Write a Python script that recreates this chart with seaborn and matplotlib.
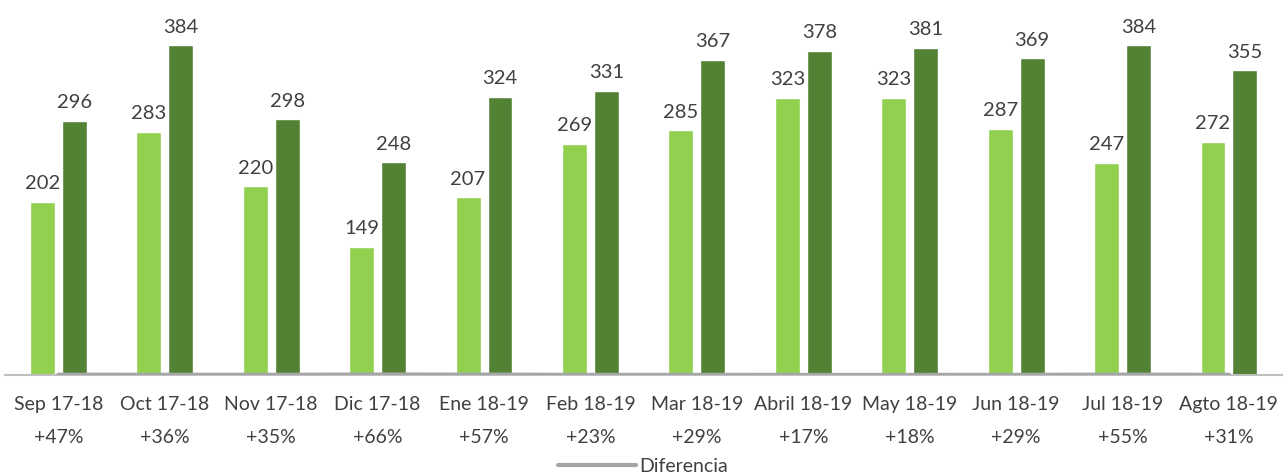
import pandas as pd
import matplotlib
matplotlib.use("Agg")
import matplotlib.pyplot as plt
import seaborn as sns

# Data
meses = ["Sep 17-18", "Oct 17-18", "Nov 17-18", "Dic 17-18", "Ene 18-19", "Feb 18-19",
         "Mar 18-19", "Abril 18-19", "May 18-19", "Jun 18-19", "Jul 18-19", "Agto 18-19"]
periodo_1 = [202, 283, 220, 149, 207, 269, 285, 323, 323, 287, 247, 272]
periodo_2 = [296, 384, 298, 248, 324, 331, 367, 378, 381, 369, 384, 355]
diferencia = [47, 36, 35, 66, 57, 23, 29, 17, 18, 29, 55, 31]

light_green = "#92D050"
dark_green = "#548235"
text_color = "#404040"

df = pd.DataFrame({
    "mes": meses * 2,
    "valor": periodo_1 + periodo_2,
    "serie": ["p1"] * len(meses) + ["p2"] * len(meses),
})

sns.set_style("white")
plt.rcParams["font.family"] = ["Lato", "DejaVu Sans"]

fig = plt.figure(figsize=(12.86, 4.76), dpi=100)
ax = fig.add_axes([0.004, 0.212, 0.993, 0.788])

sns.barplot(data=df, x="mes", y="valor", hue="serie", order=meses,
            palette=[light_green, dark_green], width=0.6, gap=0.22,
            saturation=1, errorbar=None, legend=False, ax=ax)

# Diferencia line (fractions, sits on the baseline)
dif_line, = ax.plot(range(len(meses)), [d / 100 for d in diferencia], color="#A6A6A6",
                    lw=3, label="Diferencia", zorder=3)

for cont in ax.containers:
    ax.bar_label(cont, fmt="%d", padding=7, fontsize=14.5, color=text_color)

ax.set_xlim(-0.5, len(meses) - 0.5)
ax.set_ylim(0, 437)
ax.set_xlabel("")
ax.set_ylabel("")
ax.set_yticks([])
ax.set_xticks(range(len(meses)))
ax.set_xticklabels([f"{m}\n+{d}%" for m, d in zip(meses, diferencia)],
                   fontsize=14, color=text_color, linespacing=2.15)
ax.tick_params(axis="x", length=0, pad=15)
for s in ["top", "left", "right"]:
    ax.spines[s].set_visible(False)
ax.spines["bottom"].set_color("#BFBFBF")
ax.spines["bottom"].set_linewidth(1.5)

fig.legend(handles=[dif_line], labels=["Diferencia"], loc="lower center",
           bbox_to_anchor=(0.5, -0.035), frameon=False, fontsize=14,
           handlelength=4.0, handletextpad=0.2, labelcolor=text_color)

fig.savefig("out.png", dpi=100)
